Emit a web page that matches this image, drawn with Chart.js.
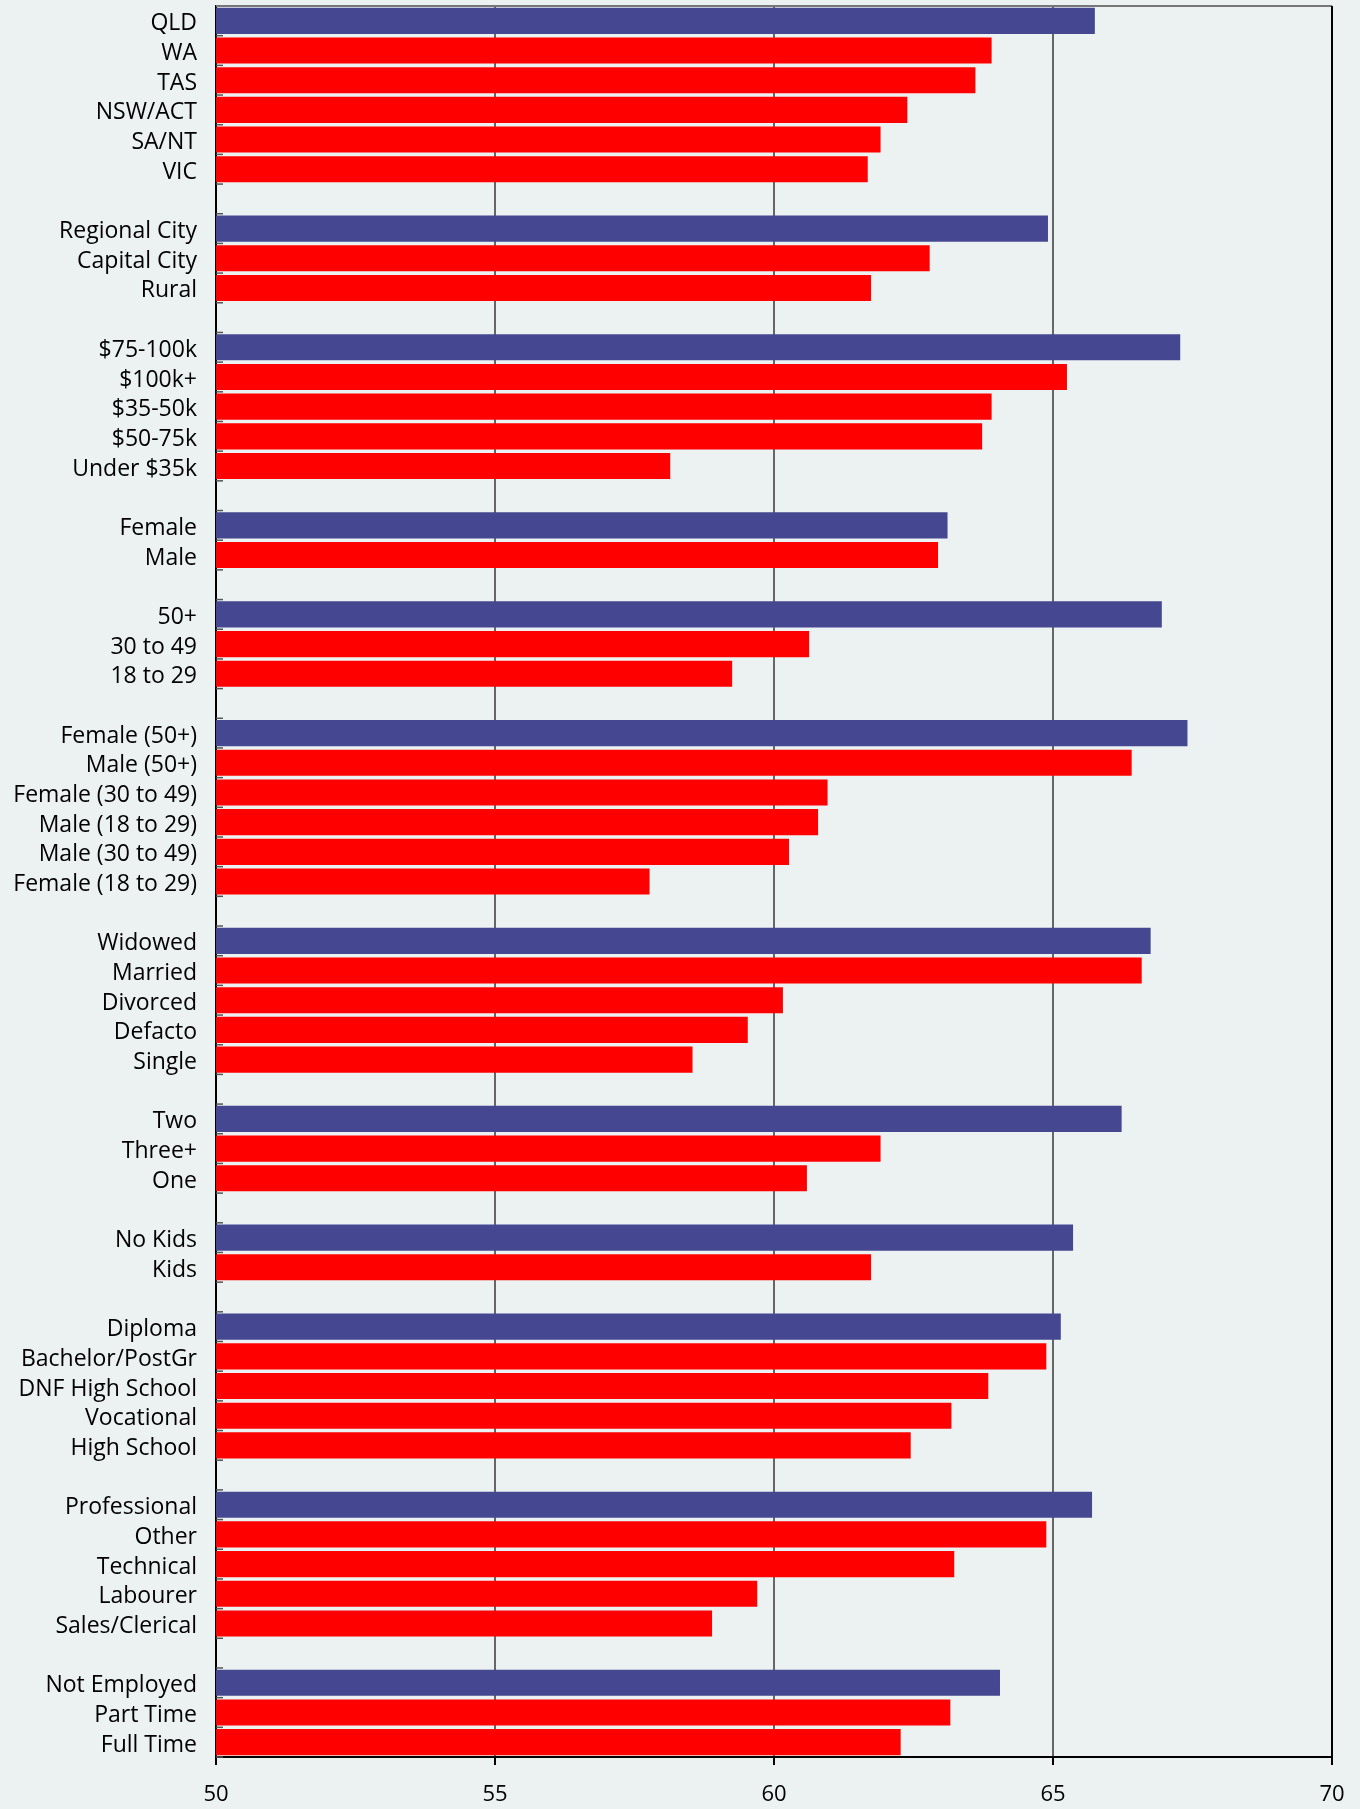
<!DOCTYPE html>
<html>
<head>
<meta charset="utf-8">
<script src="https://cdn.jsdelivr.net/npm/chart.js@4.4.1/dist/chart.umd.min.js"></script>
<style>
  html, body { margin: 0; padding: 0; background: #ECF2F2; }
  #wrap { width: 1360px; height: 1809px; }
</style>
</head>
<body>
<div id="wrap"><canvas id="bars" width="1360" height="1809"></canvas></div>
<script>
// categories top to bottom, '' = gap between groups
var categories = [
  'QLD', 'WA', 'TAS', 'NSW/ACT', 'SA/NT', 'VIC', '',
  'Regional City', 'Capital City', 'Rural', '',
  '$75-100k', '$100k+', '$35-50k', '$50-75k', 'Under $35k', '',
  'Female', 'Male', '',
  '50+', '30 to 49', '18 to 29', '',
  'Female (50+)', 'Male (50+)', 'Female (30 to 49)', 'Male (18 to 29)', 'Male (30 to 49)', 'Female (18 to 29)', '',
  'Widowed', 'Married', 'Divorced', 'Defacto', 'Single', '',
  'Two', 'Three+', 'One', '',
  'No Kids', 'Kids', '',
  'Diploma', 'Bachelor/PostGr', 'DNF High School', 'Vocational', 'High School', '',
  'Professional', 'Other', 'Technical', 'Labourer', 'Sales/Clerical', '',
  'Not Employed', 'Part Time', 'Full Time'
];
var values = [
  65.75, 63.90, 63.61, 62.39, 61.91, 61.68, null,
  64.91, 62.79, 61.74, null,
  67.28, 65.25, 63.90, 63.73, 58.14, null,
  63.11, 62.94, null,
  66.95, 60.63, 59.25, null,
  67.41, 66.41, 60.96, 60.79, 60.27, 57.77, null,
  66.75, 66.59, 60.16, 59.53, 58.54, null,
  66.23, 61.91, 60.59, null,
  65.36, 61.74, null,
  65.14, 64.88, 63.84, 63.18, 62.45, null,
  65.70, 64.88, 63.23, 59.70, 58.89, null,
  64.05, 63.16, 62.27
];
var xTicks = [50, 55, 60, 65, 70];

var topColor = '#454791';
var restColor = '#FF0000';

// first bar of each group is highlighted
var barColors = values.map(function (v, i) {
  if (i === 0 || categories[i - 1] === '') return topColor;
  return restColor;
});

var frame = {
  id: 'frame',
  afterDatasetsDraw: function (chart) {
    var c = chart.ctx, a = chart.chartArea, y = chart.scales.y;
    c.save();
    // small inner ticks at category boundaries
    c.strokeStyle = '#555';
    c.lineWidth = 1.5;
    for (var i = 0; i <= categories.length; i++) {
      var py;
      if (i === 0) py = a.top;
      else if (i === categories.length) py = a.bottom;
      else py = (y.getPixelForTick(i - 1) + y.getPixelForTick(i)) / 2;
      c.beginPath();
      c.moveTo(a.left, py);
      c.lineTo(a.left + 7, py);
      c.stroke();
    }
    // top and right borders
    c.strokeStyle = '#777';
    c.lineWidth = 2;
    c.beginPath();
    c.moveTo(a.left, a.top);
    c.lineTo(a.right, a.top);
    c.stroke();
    c.strokeStyle = '#000';
    c.beginPath();
    c.moveTo(a.right, a.top);
    c.lineTo(a.right, a.bottom);
    c.stroke();
    c.restore();
  }
};

new Chart(document.getElementById('bars'), {
  type: 'bar',
  data: {
    labels: categories,
    datasets: [{
      data: values,
      backgroundColor: barColors,
      borderWidth: 0,
      barPercentage: 0.88,
      categoryPercentage: 1.0
    }]
  },
  options: {
    indexAxis: 'y',
    responsive: false,
    animation: false,
    devicePixelRatio: 1,
    layout: { padding: { left: 0, right: 28, top: 6, bottom: 0 } },
    plugins: { legend: { display: false }, tooltip: { enabled: false } },
    scales: {
      x: {
        min: 50,
        max: 70,
        afterBuildTicks: function (scale) {
          scale.ticks = xTicks.map(function (v) { return { value: v }; });
        },
        afterFit: function (scale) {
          scale.height = 52;
          scale.paddingLeft = 0;
          scale.paddingRight = 0;
        },
        border: { display: true, color: '#000', width: 2 },
        grid: {
          color: function (ctx) {
            return (ctx.tick && (ctx.tick.value === 50 || ctx.tick.value === 70)) ? '#000' : '#666';
          },
          lineWidth: 2,
          tickColor: '#000',
          tickLength: 8,
          drawTicks: true
        },
        ticks: {
          color: '#000',
          padding: 17,
          font: { family: 'Open Sans', size: 22, weight: '500' },
          maxRotation: 0
        }
      },
      y: {
        afterFit: function (scale) {
          scale.width = 216;
          scale.paddingTop = 0;
          scale.paddingBottom = 0;
        },
        border: { display: true, color: '#000', width: 2 },
        grid: { display: false, drawTicks: false },
        ticks: {
          color: '#000',
          padding: 19,
          labelOffset: 3,
          autoSkip: false,
          font: { family: 'Open Sans', size: 23, weight: '500' }
        }
      }
    }
  },
  plugins: [frame]
});
</script>
</body>
</html>
